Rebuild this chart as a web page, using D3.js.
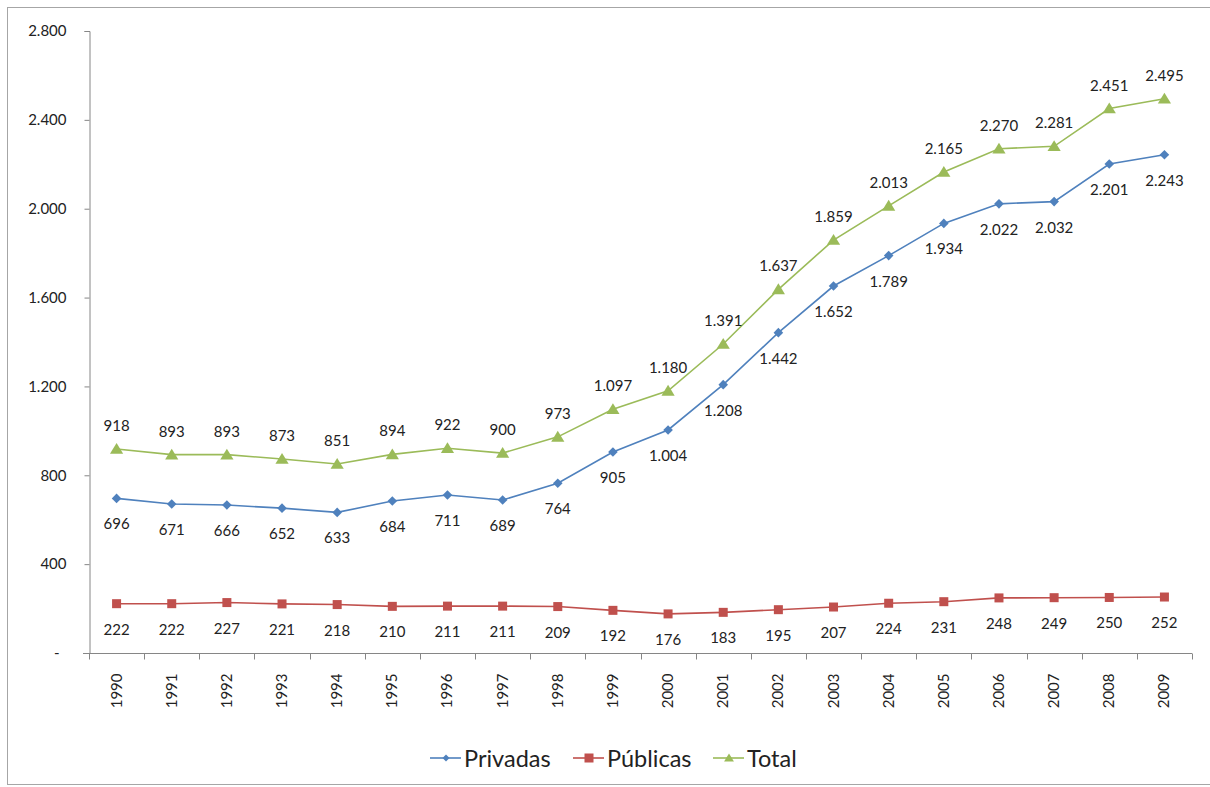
<!DOCTYPE html>
<html>
<head>
<meta charset="utf-8">
<script src="https://cdn.jsdelivr.net/npm/d3@7"></script>
<style>
  html, body { margin: 0; padding: 0; background: #fff; }
  svg { display: block; font-family: Lato, "Open Sans", sans-serif; }
</style>
</head>
<body>
<svg id="chart" width="1210" height="787"></svg>
<script>
// Annual counts by sector, 1990–2009
const years = ["1990","1991","1992","1993","1994","1995","1996","1997","1998","1999",
               "2000","2001","2002","2003","2004","2005","2006","2007","2008","2009"];
const privadas = [696,671,666,652,633,684,711,689,764,905,1004,1208,1442,1652,1789,1934,2022,2032,2201,2243];
const publicas = [222,222,227,221,218,210,211,211,209,192,176,183,195,207,224,231,248,249,250,252];
const total    = [918,893,893,873,851,894,922,900,973,1097,1180,1391,1637,1859,2013,2165,2270,2281,2451,2495];
const yTicks   = [0,400,800,1200,1600,2000,2400,2800];
const seriesNames = ["Privadas","Públicas","Total"];

const svg = d3.select("#chart");
const W = 1210, H = 787;

// outer frame
svg.append("rect")
  .attr("x", 7.5).attr("y", 7.5)
  .attr("width", W + 10).attr("height", 777)
  .attr("fill", "#fff").attr("stroke", "#a6a6a6").attr("stroke-width", 1);

const plot = { left: 89, right: 1192, top: 31, bottom: 653 };

const x = d3.scaleBand().domain(years).range([plot.left, plot.right]);
const y = d3.scaleLinear().domain([0, 2800]).range([plot.bottom, plot.top]);

const fmt = v => v === 0 ? "-" : d3.format(",")(v).replace(/,/g, ".");

const axisColor = "#868686";

// y axis
const yAxis = svg.append("g").attr("transform", `translate(${plot.left + 0.5},0)`)
  .call(d3.axisLeft(y).tickValues(yTicks).tickSize(5).tickPadding(18).tickFormat(fmt));
yAxis.select(".domain").attr("stroke", axisColor);
yAxis.selectAll(".tick line").attr("stroke", axisColor);
yAxis.selectAll(".tick text")
  .attr("fill", "#222").style("font-size", "15px").style("font-family", "Lato, sans-serif")
  .attr("dx", d => d === 0 ? -7 : 0);

// x axis: ticks on category boundaries
const xAxisG = svg.append("g").attr("transform", `translate(0,${plot.bottom + 0.5})`);
xAxisG.append("line")
  .attr("x1", plot.left - 6).attr("x2", plot.right).attr("y1", 0).attr("y2", 0)
  .attr("stroke", axisColor);
const bounds = years.map(d => x(d)).concat([plot.right]);
xAxisG.selectAll("line.tk").data(bounds).join("line")
  .attr("class", "tk")
  .attr("x1", d => Math.round(d) + 0.5).attr("x2", d => Math.round(d) + 0.5)
  .attr("y1", 0).attr("y2", 6)
  .attr("stroke", axisColor);
xAxisG.selectAll("text").data(years).join("text")
  .attr("transform", d => `translate(${x(d) + x.bandwidth() / 2 + 5},20) rotate(-90)`)
  .attr("text-anchor", "end")
  .attr("fill", "#222")
  .style("font-size", "15px")
  .text(d => d);

const cx = i => x(years[i]) + x.bandwidth() / 2;

const series = [
  { name: seriesNames[0], values: privadas, color: "#4F81BD", shape: "diamond", labelDy: 31 },
  { name: seriesNames[1], values: publicas, color: "#C0504D", shape: "square", labelDy: 31 },
  { name: seriesNames[2], values: total,    color: "#9BBB59", shape: "triangle", labelDy: -18 }
];

function marker(sel, shape, color, s) {
  if (shape === "diamond") {
    sel.append("path").attr("d", `M0,${-s}L${s},0L0,${s}L${-s},0Z`).attr("fill", color);
  } else if (shape === "square") {
    sel.append("rect").attr("x", -s).attr("y", -s).attr("width", 2 * s).attr("height", 2 * s).attr("fill", color);
  } else {
    sel.append("path").attr("d", `M0,${-s}L${s * 1.1},${s * 0.8}L${-s * 1.1},${s * 0.8}Z`).attr("fill", color);
  }
}

const line = d3.line().x((d, i) => cx(i)).y(d => y(d));

series.forEach(s => {
  const g = svg.append("g");
  g.append("path").datum(s.values)
    .attr("d", line).attr("fill", "none")
    .attr("stroke", s.color).attr("stroke-width", 1.6);
  s.values.forEach((v, i) => {
    const m = g.append("g").attr("transform", `translate(${cx(i)},${y(v)})`);
    marker(m, s.shape, s.color, s.shape === "square" ? 4.5 : (s.shape === "diamond" ? 4.8 : 6));
  });
  g.selectAll("text").data(s.values).join("text")
    .attr("x", (d, i) => cx(i))
    .attr("y", d => y(d) + s.labelDy)
    .attr("text-anchor", "middle")
    .attr("fill", "#222")
    .style("font-size", "15px")
    .text(d => fmt(d));
});

// legend
const legend = svg.append("g").attr("transform", "translate(0,767)");
const legendX = [430, 573, 713];
series.forEach((s, i) => {
  const g = legend.append("g").attr("transform", `translate(${legendX[i]},0)`);
  g.append("line").attr("x1", 0).attr("x2", 31).attr("y1", -9).attr("y2", -9)
    .attr("stroke", s.color).attr("stroke-width", 1.6);
  const m = g.append("g").attr("transform", "translate(16,-9)");
  marker(m, s.shape, s.color, s.shape === "square" ? 4.5 : (s.shape === "diamond" ? 3.5 : 4.5));
  g.append("text").attr("x", 34).attr("y", 0)
    .attr("fill", "#222").style("font-size", "23.5px").text(s.name);
});
</script>
</body>
</html>
